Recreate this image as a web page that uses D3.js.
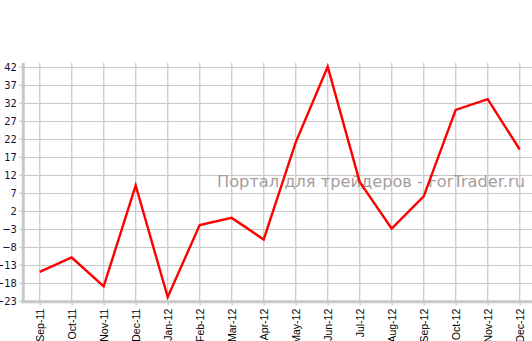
<!DOCTYPE html>
<html><head><meta charset="utf-8">
<script src="https://cdn.jsdelivr.net/npm/d3@7"></script>
<style>body{margin:0;background:#fff}svg{display:block}</style>
</head><body>
<script>
const months = ["Sep-11","Oct-11","Nov-11","Dec-11","Jan-12","Feb-12","Mar-12","Apr-12","May-12","Jun-12","Jul-12","Aug-12","Sep-12","Oct-12","Nov-12","Dec-12"];
const values = [-15,-11,-19,9,-22,-2,0,-6,21,42,10,-3,6,30,33,19];
const yTicks = [42,37,32,27,22,17,12,7,2,-3,-8,-13,-18,-23];
const watermark = "Портал для трейдеров - ForTrader.ru";

const W=532,H=341;
const svg=d3.select("body").append("svg").attr("width",W).attr("height",H);
const x=d3.scalePoint().domain(months).range([39.7,519.7]);
const y=d3.scaleLinear().domain([-23,42]).range([300.7,66.7]);
const axisX=23.3, axisY=301.7;

// horizontal grid
svg.append("g").selectAll("line").data(yTicks.filter(d=>d>-23)).join("line")
  .attr("x1",axisX).attr("x2",532).attr("y1",d=>Math.round(y(d))+0.5).attr("y2",d=>Math.round(y(d))+0.5)
  .attr("stroke","#c8c8c8").attr("stroke-width",1);
// vertical grid
svg.append("g").selectAll("line").data(months).join("line")
  .attr("x1",d=>x(d)).attr("x2",d=>x(d)).attr("y1",63).attr("y2",axisY)
  .attr("stroke","#cccccc").attr("stroke-width",1.3);

// watermark
svg.append("text").attr("x",217).attr("y",187).attr("font-family","DejaVu Sans").attr("font-size",16.5)
  .attr("fill","#a69e9c").attr("textLength",308).attr("lengthAdjust","spacingAndGlyphs").text(watermark);

// y axis
const ya=svg.append("g").attr("transform",`translate(${axisX},0)`)
  .call(d3.axisLeft(y).tickValues(yTicks).tickSize(4).tickPadding(2.5).tickFormat(d3.format("d")));
ya.select(".domain").remove();
ya.selectAll(".tick line").attr("stroke","#bbbbbb");
ya.selectAll("text").attr("font-family","DejaVu Sans Condensed, DejaVu Sans").attr("font-size",11).attr("fill","#101040");
svg.append("line").attr("x1",axisX).attr("x2",axisX).attr("y1",63).attr("y2",axisY+1.5).attr("stroke","#c8c8c8").attr("stroke-width",3);

// x axis
const xa=svg.append("g").attr("transform",`translate(0,${axisY})`)
  .call(d3.axisBottom(x).tickSize(4).tickPadding(4));
xa.select(".domain").remove();
xa.selectAll(".tick line").attr("stroke","#bbbbbb");
xa.selectAll("text").attr("font-family","Liberation Sans, Arial").attr("font-size",10.5).attr("fill","#000")
  .attr("transform","rotate(-90)").attr("text-anchor","end").attr("x",-7).attr("y",0).attr("dy","0.35em");
svg.append("line").attr("x1",axisX-1.5).attr("x2",532).attr("y1",axisY).attr("y2",axisY).attr("stroke","#c8c8c8").attr("stroke-width",3);

// line
svg.append("path").datum(months.map((m,i)=>[m,values[i]]))
  .attr("fill","none").attr("stroke","#ff0000").attr("stroke-width",2.4).attr("stroke-linejoin","miter")
  .attr("d",d3.line().x(d=>x(d[0])).y(d=>y(d[1])));
</script>
</body></html>
